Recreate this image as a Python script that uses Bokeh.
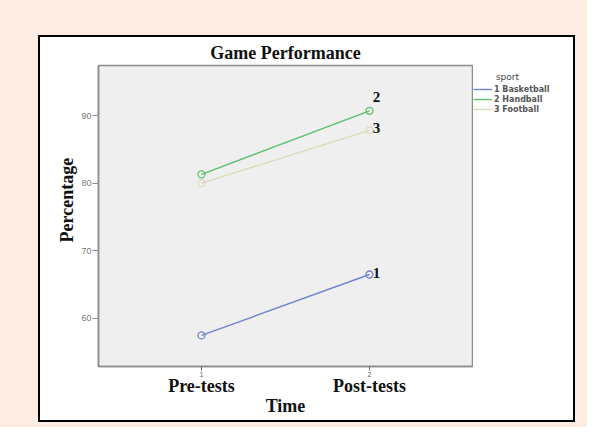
from bokeh.plotting import figure
from bokeh.models import (ColumnDataSource, FixedTicker, LinearAxis, Legend, LegendItem, Range1d,
                          Spacer, Title)
from bokeh.layouts import column, row
from bokeh.embed import file_html
from bokeh.resources import INLINE
from bokeh.core.properties import value

# ---- data ----
categories = ["1 Basketball", "2 Handball", "3 Football"]
time_ticks = [1, 2]
time_labels = ["Pre-tests", "Post-tests"]
basketball = [57.5, 66.5]
handball = [81.3, 90.7]
football = [80.0, 87.8]
end_labels = ["1", "2", "3"]
y_ticks = [60, 70, 80, 90]

series = [basketball, handball, football]
colors = ["#7084cc", "#5cbf6a", "#dcdab8"]
label_offsets = [(7, -2), (7, -14), (7, -2)]

SERIF = "Liberation Serif"
PEACH = "#fdece2"
GREY = "#8c8c8c"

# ---------------- main chart ----------------
p = figure(width=433, height=383, output_backend="svg", toolbar_location=None,
           x_range=Range1d(0.387, 2.613), y_range=Range1d(52.9, 97.4),
           min_border_left=58, min_border_right=1, min_border_top=28, min_border_bottom=54,
           background_fill_color="#efefef", border_fill_color="white",
           outline_line_color=GREY, outline_line_width=1.5)

p.title.text = "Game Performance"
p.title.align = "center"
p.title.text_font = SERIF
p.title.text_font_size = "18px"
p.title.text_font_style = "bold"
p.title.text_color = "#111111"
p.title.standoff = 6

p.grid.visible = False

# y axis
ya = p.yaxis[0]
ya.ticker = FixedTicker(ticks=y_ticks)
ya.minor_tick_line_color = None
ya.major_tick_in = 0
ya.major_tick_out = 6
ya.axis_line_color = GREY
ya.axis_line_width = 1.5
ya.major_tick_line_color = GREY
ya.major_label_text_font = "Liberation Sans"
ya.major_label_text_font_size = "9px"
ya.major_label_text_color = "#777777"
ya.major_label_standoff = 1

ylab = Title(text="Percentage", align="left", offset=124, standoff=3,
             text_font=SERIF, text_font_size="18px", text_font_style="bold",
             text_color="#111111")
p.add_layout(ylab, "left")

# x axis with small numeric ticks
xa = p.xaxis[0]
xa.ticker = FixedTicker(ticks=time_ticks)
xa.minor_tick_line_color = None
xa.major_tick_in = 0
xa.major_tick_out = 4
xa.axis_line_color = GREY
xa.axis_line_width = 1.5
xa.major_tick_line_color = "#666666"
xa.major_label_text_font = "Liberation Sans"
xa.major_label_text_font_size = "7px"
xa.major_label_text_color = "#666666"
xa.major_label_standoff = 1

# x axis with named time points
xa2 = LinearAxis(ticker=FixedTicker(ticks=time_ticks),
                 major_label_overrides={t: l for t, l in zip(time_ticks, time_labels)})
xa2.axis_line_color = None
xa2.major_tick_line_color = None
xa2.minor_tick_line_color = None
xa2.major_tick_out = 0
xa2.major_tick_in = 0
xa2.major_label_text_font = SERIF
xa2.major_label_text_font_size = "18px"
xa2.major_label_text_font_style = "bold"
xa2.major_label_text_color = "#111111"
xa2.major_label_standoff = -4
xa2.axis_label = "Time"
xa2.axis_label_text_font = SERIF
xa2.axis_label_text_font_size = "18px"
xa2.axis_label_text_font_style = "bold"
xa2.axis_label_text_color = "#111111"
xa2.axis_label_standoff = -3
p.add_layout(xa2, "below")

for vals, col, lab, off in zip(series, colors, end_labels, label_offsets):
    src = ColumnDataSource(dict(x=time_ticks, y=vals))
    p.line("x", "y", source=src, line_color=col, line_width=1.4)
    p.scatter("x", "y", source=src, marker="circle", size=7, fill_color=None,
              line_color=col, line_width=1.3)
    p.text(x=[time_ticks[-1]], y=[vals[-1]], text=[lab], x_offset=off[0], y_offset=off[1],
           text_font=value(SERIF), text_font_style="bold", text_font_size="15px",
           text_align="center", text_baseline="middle", text_color="#111111")

# ---------------- legend panel ----------------
lg = figure(width=100, height=383, output_backend="svg", toolbar_location=None,
            x_range=Range1d(10, 11), y_range=Range1d(0, 1),
            min_border_left=0, min_border_right=0, min_border_top=28, min_border_bottom=54,
            background_fill_color="white", border_fill_color="white",
            outline_line_color=None)
lg.axis.visible = False
lg.grid.visible = False

items = []
for name, vals, col in zip(categories, series, colors):
    r = lg.line(x=time_ticks, y=vals, line_color=col, line_width=1.4)
    items.append(LegendItem(label=name, renderers=[r]))

legend = Legend(items=items, location=(0, 252), title="\u00a0" * 8 + "sport",
                title_text_font="DejaVu Sans", title_text_font_size="9px",
                title_text_font_style="normal", title_text_color="#444444", title_standoff=2,
                label_text_font="DejaVu Sans", label_text_font_size="8px",
                label_text_font_style="bold", label_text_color="#555555",
                label_height=10, glyph_height=10, glyph_width=19,
                label_standoff=2, spacing=0, padding=0, margin=0,
                border_line_color=None, background_fill_alpha=0)
lg.add_layout(legend, "center")

def blk(w, h):
    return Spacer(width=w, height=h, styles={"background-color": "black"})

def pch(w, h):
    return Spacer(width=w, height=h, styles={"background-color": PEACH})

framed = column(blk(537, 2), row(blk(2, 383), p, lg, blk(2, 383), spacing=0), blk(537, 2),
                spacing=0)
layout = column(pch(587, 35), row(pch(38, 387), framed, pch(12, 387), spacing=0), pch(587, 5),
                spacing=0)

open("out.html", "w").write(file_html(layout, INLINE))
